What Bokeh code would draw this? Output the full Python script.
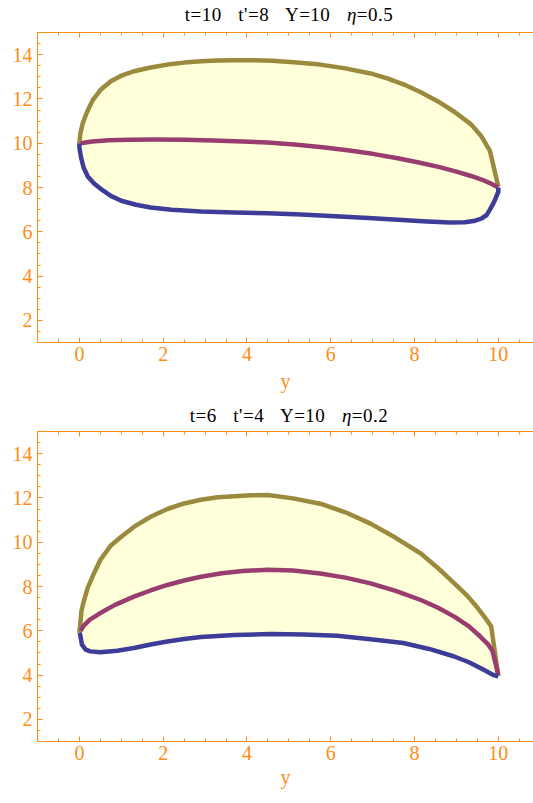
from bokeh.plotting import figure
from bokeh.models import Range1d, SingleIntervalTicker, LinearAxis, Div, CustomJSTickFormatter
from bokeh.layouts import column
from bokeh.embed import file_html
from bokeh.resources import INLINE

# ---- data: panel 1 (t=10, t'=8, Y=10, eta=0.5)
p1_upper_x = [0, 0.02, 0.08, 0.18, 0.32, 0.5, 0.75, 1.0, 1.3, 1.7, 2.1, 2.5, 2.9, 3.3, 3.7, 4.1,
              4.6, 5.2, 5.75, 6.35, 6.95, 7.35, 7.75, 8.15, 8.55, 8.95, 9.35, 9.6, 9.8, 10]
p1_upper_y = [10.0, 10.4, 10.9, 11.4, 11.95, 12.4, 12.8, 13.05, 13.25, 13.42, 13.55, 13.64, 13.7, 13.73,
              13.75, 13.75, 13.72, 13.65, 13.55, 13.38, 13.15, 12.93, 12.65, 12.3, 11.9, 11.42, 10.85,
              10.3, 9.65, 8.05]
p1_mid_x = [0.03, 0.3, 0.7, 1.2, 1.8, 2.5, 3.2, 3.9, 4.5, 5.2, 5.8, 6.4, 7.0, 7.6, 8.1, 8.6, 9.0,
            9.35, 9.6, 9.8, 10]
p1_mid_y = [10.0, 10.08, 10.13, 10.16, 10.17, 10.16, 10.12, 10.08, 10.03, 9.93, 9.82, 9.68, 9.52,
            9.32, 9.13, 8.92, 8.72, 8.52, 8.36, 8.2, 8.0]
p1_lower_x = [0, 0.0, 0.04, 0.1, 0.2, 0.35, 0.5, 0.75, 1.0, 1.35, 1.7, 2.2, 2.9, 3.7, 4.5, 5.3, 6.1,
              6.9, 7.7, 8.3, 8.85, 9.2, 9.45, 9.6, 9.72, 9.8, 9.9, 10, 10]
p1_lower_y = [10.0, 9.8, 9.35, 8.9, 8.5, 8.18, 7.95, 7.62, 7.4, 7.22, 7.1, 7.0, 6.92, 6.87, 6.84,
              6.78, 6.7, 6.62, 6.53, 6.47, 6.42, 6.43, 6.5, 6.6, 6.75, 7.0, 7.35, 7.8, 8.0]

# ---- data: panel 2 (t=6, t'=4, Y=10, eta=0.2)
p2_upper_x = [0, 0.02, 0.05, 0.1, 0.2, 0.35, 0.5, 0.75, 1.0, 1.3, 1.7, 2.1, 2.5, 2.9, 3.3, 3.7, 4.1,
              4.5, 5.1, 5.75, 6.35, 6.95, 7.55, 8.15, 8.55, 8.95, 9.25, 9.5, 9.7, 9.83, 10]
p2_upper_y = [5.9, 6.3, 6.9, 7.3, 7.95, 8.6, 9.2, 9.85, 10.25, 10.69, 11.15, 11.5, 11.75, 11.92,
              12.03, 12.08, 12.12, 12.13, 11.98, 11.74, 11.35, 10.84, 10.2, 9.49, 8.85, 8.14, 7.6,
              7.05, 6.55, 6.2, 3.95]
p2_mid_x = [0.03, 0.1, 0.25, 0.5, 0.85, 1.3, 1.7, 2.1, 2.5, 2.9, 3.4, 3.9, 4.5, 5.1, 5.75, 6.35,
            6.95, 7.55, 8.15, 8.55, 8.95, 9.3, 9.57, 9.75, 9.86, 10]
p2_mid_y = [6.0, 6.22, 6.5, 6.8, 7.17, 7.54, 7.82, 8.07, 8.27, 8.44, 8.6, 8.7, 8.76, 8.72, 8.59,
            8.4, 8.14, 7.8, 7.39, 7.05, 6.64, 6.2, 5.74, 5.4, 5.1, 4.0]
p2_lower_x = [0, 0.02, 0.06, 0.15, 0.26, 0.5, 0.9, 1.3, 1.7, 2.1, 2.5, 2.9, 3.7, 4.56, 5.35, 6.15,
              6.95, 7.73, 8.35, 8.93, 9.3, 9.64, 9.88, 10]
p2_lower_y = [5.9, 5.82, 5.37, 5.15, 5.07, 5.03, 5.1, 5.22, 5.38, 5.52, 5.63, 5.72, 5.81, 5.85,
              5.83, 5.78, 5.62, 5.45, 5.18, 4.85, 4.58, 4.25, 4.0, 3.95]

title_parts = [
    ("t=10  t'=8  Y=10  ", "\u03b7", "=0.5"),
    ("t=6  t'=4  Y=10  ", "\u03b7", "=0.2"),
]
x_label = "y"

ORANGE = "#FF8C14"
FILL = "#FFFFDA"
C_UP = "#998A3D"
C_MID = "#993D71"
C_LOW = "#3D3D99"
SERIF = "Liberation Serif"


def make_title(parts, height, pad_top):
    html = ('<div style="box-sizing:border-box; width:533px; height:%dpx; padding-top:%dpx; '
            'padding-left:45px; text-align:center; white-space:pre; line-height:18px; '
            'word-spacing:3px; letter-spacing:0.5px; '
            "font-family:'Liberation Serif', serif; font-size:19px; color:#000;\">" % (height, pad_top)
            + parts[0] + "<i>" + parts[1] + "</i>" + parts[2] + "</div>")
    return Div(text=html, width=533, height=height, margin=0)


def make_panel(ux, uy, mx, my, lx, ly, top, bottom, label_standoff):
    p = figure(width=533, height=top + 310 + bottom, output_backend="svg", toolbar_location=None,
               x_range=Range1d(-1, 10.84), y_range=Range1d(1, 15),
               min_border_left=37, min_border_right=0, min_border_top=top,
               min_border_bottom=bottom, x_axis_location=None, y_axis_location=None)
    p.outline_line_color = None
    p.grid.visible = False

    def style(ax, labels=True):
        ax.axis_line_color = ORANGE
        ax.axis_line_width = 1
        ax.major_tick_line_color = ORANGE
        ax.minor_tick_line_color = ORANGE
        ax.major_tick_in = 5
        ax.major_tick_out = 0
        ax.minor_tick_in = 3
        ax.minor_tick_out = 0
        ax.major_label_text_color = ORANGE
        ax.major_label_text_font = SERIF
        ax.major_label_text_font_size = "20px" if labels else "1px"

    bx = LinearAxis(ticker=SingleIntervalTicker(interval=2, num_minor_ticks=4))
    style(bx)
    bx.major_label_standoff = 4
    bx.axis_label = x_label
    bx.axis_label_text_color = ORANGE
    bx.axis_label_text_font = SERIF
    bx.axis_label_text_font_style = "normal"
    bx.axis_label_text_font_size = "20px"
    bx.axis_label_standoff = label_standoff
    p.add_layout(bx, "below")

    tx = LinearAxis(ticker=SingleIntervalTicker(interval=2, num_minor_ticks=4),
                    formatter=CustomJSTickFormatter(code="return ''"))
    style(tx, labels=False)
    tx.major_label_standoff = 0
    p.add_layout(tx, "above")

    lax = LinearAxis(ticker=SingleIntervalTicker(interval=2, num_minor_ticks=4))
    style(lax)
    lax.major_label_standoff = 5
    p.add_layout(lax, "left")

    p.patch(list(ux) + list(lx)[::-1], list(uy) + list(ly)[::-1],
            fill_color=FILL, line_color=None)
    p.line(ux, uy, line_color=C_UP, line_width=4.5, line_join="round")
    p.line(mx, my, line_color=C_MID, line_width=4.5, line_join="round")
    p.line(lx, ly, line_color=C_LOW, line_width=4.5, line_join="round")
    return p


t1 = make_title(title_parts[0], 24, 6)
p1 = make_panel(p1_upper_x, p1_upper_y, p1_mid_x, p1_mid_y, p1_lower_x, p1_lower_y, 8, 65, 6)
t2 = make_title(title_parts[1], 20, 0)
p2 = make_panel(p2_upper_x, p2_upper_y, p2_mid_x, p2_mid_y, p2_lower_x, p2_lower_y, 4, 62, 3)

layout = column(t1, p1, t2, p2)
open("out.html", "w").write(file_html(layout, INLINE))
